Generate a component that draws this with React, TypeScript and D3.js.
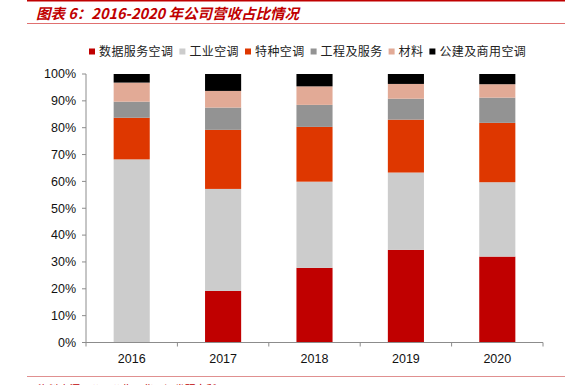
import React from "react";
import * as d3 from "d3";

const years = ["2016", "2017", "2018", "2019", "2020"];
const seriesNames = ["数据服务空调", "工业空调", "特种空调", "工程及服务", "材料", "公建及商用空调"];
const seriesColors = ["#C00000", "#CCCCCC", "#DE3700", "#939393", "#E2AA96", "#000000"];
const dataService = [0, 19.2, 27.8, 34.5, 32.0];
const industrial = [68.2, 38.0, 32.1, 28.8, 27.7];
const special = [15.5, 22.0, 20.4, 19.7, 22.1];
const engineering = [6.0, 8.3, 8.2, 7.8, 9.4];
const materials = [7.1, 6.2, 6.9, 5.5, 5.0];
const publicBuilding = [3.2, 6.3, 4.6, 3.7, 3.8];
const yTicks = [0, 10, 20, 30, 40, 50, 60, 70, 80, 90, 100];

const seriesValues = [dataService, industrial, special, engineering, materials, publicBuilding];

export default function App() {
  const W = 565, H = 385;
  const left = 86, right = 543, top = 74, bottom = 342.5;
  const x = d3.scaleBand<string>().domain(years).range([left, right]).paddingInner(0.605).paddingOuter(0.3025);
  const xb = d3.scaleBand<string>().domain(years).range([left, right]);
  const y = d3.scaleLinear().domain([0, 100]).range([bottom, top]);

  const table = years.map((yr, i) => {
    const o: any = { year: yr };
    seriesNames.forEach((s, j) => (o[s] = seriesValues[j][i]));
    return o;
  });
  const stacked = d3.stack<any>().keys(seriesNames)(table);

  const axisColor = "#8C8C8C";
  const cjk = "'Noto Sans CJK SC', 'Noto Sans', sans-serif";
  const latin = "'Liberation Sans', Arial, sans-serif";

  // legend layout
  const charW = 12.4;
  let lx = 89;
  const legendItems = seriesNames.map((n, i) => {
    const item = { name: n, x: lx, color: seriesColors[i] };
    lx += 6 + 4 + n.length * charW + 6;
    return item;
  });

  return (
    <svg width={W} height={H} style={{ position: "absolute", left: 0, top: 0 }}>
      <rect x={0} y={0} width={W} height={H} fill="#fff" />
      <line x1={27} x2={W} y1={0.8} y2={0.8} stroke="#C00000" strokeWidth={1.6} />
      <text x={36} y={18.5} fill="#C00000" fontSize={14.5} fontWeight="bold" fontStyle="italic" fontFamily={cjk}>
        图表 6：2016-2020 年公司营收占比情况
      </text>
      <line x1={27} x2={W} y1={23.5} y2={23.5} stroke="#E07070" strokeWidth={1} />

      {legendItems.map((it) => (
        <g key={it.name}>
          <rect x={it.x} y={48.5} width={6} height={6} fill={it.color} />
          <text x={it.x + 10} y={56} fontSize={12} fontFamily={cjk} fill="#222" letterSpacing={0.4}>
            {it.name}
          </text>
        </g>
      ))}

      {stacked.map((layer, j) => (
        <g key={j} fill={seriesColors[j]}>
          {layer.map((d, i) => (
            <rect
              key={i}
              x={x(years[i])}
              width={x.bandwidth()}
              y={y(d[1])}
              height={Math.max(0, y(d[0]) - y(d[1]))}
            />
          ))}
        </g>
      ))}

      {/* y axis */}
      <line x1={left} x2={left} y1={top} y2={bottom} stroke={axisColor} />
      {yTicks.map((t) => (
        <g key={t}>
          <line x1={left - 4} x2={left} y1={y(t)} y2={y(t)} stroke={axisColor} />
          <text x={76} y={y(t) + 4.3} textAnchor="end" fontSize={12.5} fontFamily={latin} fill="#111">
            {t}%
          </text>
        </g>
      ))}

      {/* x axis */}
      <line x1={left} x2={right} y1={bottom} y2={bottom} stroke={axisColor} />
      {years.map((yr) => (
        <g key={yr}>
          <line x1={xb(yr)! + xb.bandwidth()} x2={xb(yr)! + xb.bandwidth()} y1={bottom} y2={bottom + 4} stroke={axisColor} />
          <text x={xb(yr)! + xb.bandwidth() / 2} y={363} textAnchor="middle" fontSize={12.5} fontFamily={latin} fill="#111">
            {yr}
          </text>
        </g>
      ))}
      <line x1={left} x2={left} y1={bottom} y2={bottom + 4} stroke={axisColor} />

      <line x1={27} x2={W} y1={376.5} y2={376.5} stroke="#E09090" strokeWidth={1} />
      <text x={38} y={392.5} fontSize={10.5} fontFamily={cjk} fill="#C00000">
        资料来源：公司公告，华西证券研究所
      </text>
    </svg>
  );
}
